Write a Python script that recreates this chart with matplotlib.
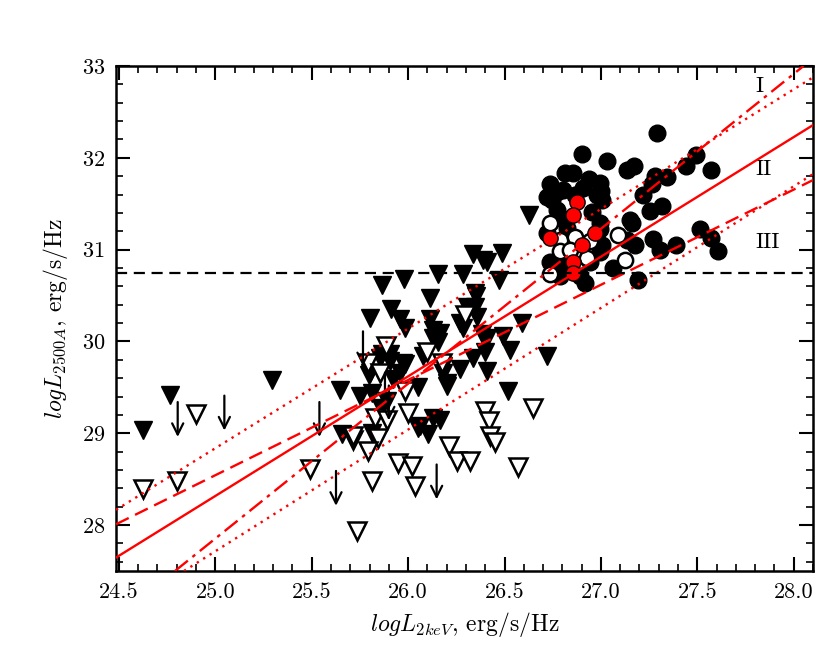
import matplotlib
matplotlib.use('Agg')
import matplotlib.pyplot as plt
from matplotlib.ticker import MultipleLocator

# filled black circles
circ_x = [27.291, 26.902, 27.032, 27.172, 27.136, 26.814, 26.855, 26.938, 26.996, 27.001,
          27.281, 27.343, 27.442, 27.493, 27.571, 27.219, 27.265, 27.006, 26.772, 26.747,
          26.804, 27.255, 27.317, 27.151, 27.514, 27.571, 27.608, 27.270, 27.307, 27.390,
          27.177, 27.063, 27.193, 26.721, 26.736, 26.907, 26.980, 26.954, 26.996, 26.804,
          26.721, 26.824, 26.980, 26.996, 26.944, 26.736, 26.804, 26.788, 26.892, 26.918,
          27.136, 27.162, 27.006, 26.996, 26.772, 26.866]
circ_y = [32.27, 32.04, 31.96, 31.91, 31.87, 31.84, 31.84, 31.77, 31.73, 31.64,
          31.80, 31.79, 31.91, 32.03, 31.87, 31.59, 31.71, 31.54, 31.63, 31.54,
          31.65, 31.42, 31.47, 31.32, 31.22, 31.13, 30.98, 31.12, 31.00, 31.05,
          31.05, 30.80, 30.67, 31.57, 31.71, 31.67, 31.60, 31.41, 31.29, 31.33,
          31.18, 31.24, 31.11, 30.97, 30.87, 30.86, 30.84, 30.71, 30.71, 30.64,
          31.11, 31.29, 31.05, 31.22, 31.43, 31.60]

# open circles
open_circ_x = [26.736, 26.788, 26.866, 26.944, 26.788, 26.840, 26.928, 26.736, 27.089, 27.125]
open_circ_y = [31.29, 31.11, 31.14, 31.09, 30.98, 31.00, 30.91, 30.73, 31.16, 30.89]

# red circles
red_circ_x = [26.876, 26.855, 26.736, 26.970, 26.902, 26.855, 26.855]
red_circ_y = [31.52, 31.38, 31.13, 31.18, 31.05, 30.87, 30.75]

# filled triangles
tri_x = [24.627, 24.765, 25.296, 25.647, 25.656, 26.629, 26.338, 26.387, 26.408, 26.489,
         26.157, 26.283, 25.979, 25.863, 26.473, 26.114, 26.352, 25.910, 25.802, 25.958,
         25.984, 26.304, 26.347, 26.356, 26.114, 26.131, 26.166, 26.286, 26.382, 26.408,
         26.494, 26.589, 26.529, 26.399, 26.338, 26.269, 26.408, 26.157, 26.131, 26.183,
         26.200, 25.984, 25.958, 25.906, 25.863, 25.802, 25.923, 26.053, 25.751, 26.520,
         25.811, 25.888, 25.862, 26.062, 26.131, 25.811, 26.166, 26.053, 26.105, 26.718,
         25.854, 25.906, 25.975, 25.795, 26.347, 26.269, 26.079, 26.183, 26.200]
tri_y = [29.04, 29.42, 29.58, 29.47, 28.99, 31.38, 30.95, 30.89, 30.87, 30.96,
         30.74, 30.74, 30.68, 30.62, 30.67, 30.47, 30.49, 30.35, 30.26, 30.24,
         30.15, 30.37, 30.37, 30.27, 30.24, 30.13, 30.09, 30.15, 30.08, 30.04,
         30.06, 30.20, 29.91, 29.89, 29.82, 29.70, 29.68, 29.99, 30.04, 29.66,
         29.51, 29.75, 29.66, 29.86, 29.86, 29.66, 29.59, 29.50, 29.41, 29.46,
         29.44, 29.35, 29.28, 29.08, 29.17, 29.00, 29.15, 29.06, 28.99, 29.84,
         29.82, 29.79, 29.77, 29.64, 30.53, 30.20, 29.84, 29.73, 29.55]

# open triangles
open_tri_x = [24.627, 24.80, 24.90, 25.491, 25.713, 25.733, 26.295, 25.885, 26.096, 26.174,
              25.794, 25.854, 25.984, 26.002, 25.828, 25.716, 25.889, 25.845, 25.794, 25.811,
              25.949, 26.019, 26.036, 26.214, 26.252, 26.321, 26.399, 26.421, 26.425, 26.451,
              26.572, 26.650]
open_tri_y = [28.39, 28.48, 29.21, 28.61, 28.93, 27.94, 30.29, 29.95, 29.88, 29.77,
              29.77, 29.66, 29.46, 29.22, 29.17, 28.97, 29.15, 28.95, 28.81, 28.48,
              28.68, 28.64, 28.43, 28.86, 28.70, 28.70, 29.24, 29.13, 28.97, 28.90,
              28.63, 29.28]

# upper limits (arrows start here and point down)
lim_x = [24.805, 25.047, 25.54, 25.626, 26.148, 25.766, 25.88, 25.90]
lim_y = [29.34, 29.41, 29.34, 28.59, 28.66, 30.11, 29.66, 29.52]

# fitted relations: value at logL2keV = 26 and slope
fit_y26 = {'solid': 29.62, 'dashed': 29.58, 'dashdot': 29.54, 'dot_up': 30.14, 'dot_lo': 29.04}
fit_slope = {'solid': 1.303, 'dashed': 1.037, 'dashdot': 1.687, 'dot_up': 1.303, 'dot_lo': 1.325}

level_y = 30.75
region_labels = ['I', 'II', 'III']
region_y = [32.78, 31.88, 31.08]

plt.rcParams['font.family'] = 'serif'
plt.rcParams['font.serif'] = ['cmr10', 'DejaVu Serif']
plt.rcParams['mathtext.fontset'] = 'cm'
plt.rcParams['axes.formatter.use_mathtext'] = True

fig = plt.figure(figsize=(8.3, 6.64), dpi=100)
ax = fig.add_axes([116 / 830, 93 / 664, 697 / 830, 505 / 664])

ax.plot(tri_x, tri_y, 'v', ms=13.5, mfc='black', mec='black', mew=1.0, ls='none', zorder=2)
ax.plot(open_tri_x, open_tri_y, 'v', ms=12.5, mfc='white', mec='black', mew=1.8, ls='none', zorder=2)
ax.plot(circ_x, circ_y, 'o', ms=12, mfc='black', mec='black', ls='none', zorder=2)
ax.plot(open_circ_x, open_circ_y, 'o', ms=11, mfc='white', mec='black', mew=1.8, ls='none', zorder=3)
ax.plot(red_circ_x, red_circ_y, 'o', ms=11, mfc='red', mec='black', mew=1.0, ls='none', zorder=3)

for x, y in zip(lim_x, lim_y):
    ax.annotate('', xy=(x, y - 0.38), xytext=(x, y),
                arrowprops=dict(arrowstyle='->', lw=1.6, color='black', mutation_scale=20,
                                shrinkA=0, shrinkB=0), zorder=4)

styles = {'solid': '-', 'dashed': (0, (6, 3)), 'dashdot': (0, (7, 2.5, 1.5, 2.5)),
          'dot_up': (0, (1, 2.2)), 'dot_lo': (0, (1, 2.2))}
for key in fit_y26:
    ax.axline((26.0, fit_y26[key]), slope=fit_slope[key], color='red', lw=1.7,
              ls=styles[key], zorder=5)

ax.axhline(level_y, color='black', lw=1.6, ls=(0, (5, 3)), zorder=5)

for lab, y in zip(region_labels, region_y):
    ax.text(27.80, y, lab, fontsize=16, va='center', ha='left')

ax.set_xlim(24.485, 28.1)
ax.set_ylim(27.5, 33)
ax.xaxis.set_major_locator(MultipleLocator(0.5))
ax.xaxis.set_minor_locator(MultipleLocator(0.1))
ax.yaxis.set_major_locator(MultipleLocator(1))
ax.yaxis.set_minor_locator(MultipleLocator(0.2))
ax.xaxis.set_major_formatter(plt.FormatStrFormatter('%.1f'))
ax.tick_params(which='both', direction='in', top=True, right=True, labelsize=16)
ax.tick_params(which='major', length=10, width=1.5, pad=8)
ax.tick_params(which='minor', length=5, width=1.2)
for sp in ax.spines.values():
    sp.set_linewidth(1.8)

ax.set_xlabel(r'$logL_{2keV}$, erg/s/Hz', fontsize=17, labelpad=6)
ax.set_ylabel(r'$logL_{2500A}$, erg/s/Hz', fontsize=17, labelpad=8)

fig.savefig('out.png', dpi=100)
